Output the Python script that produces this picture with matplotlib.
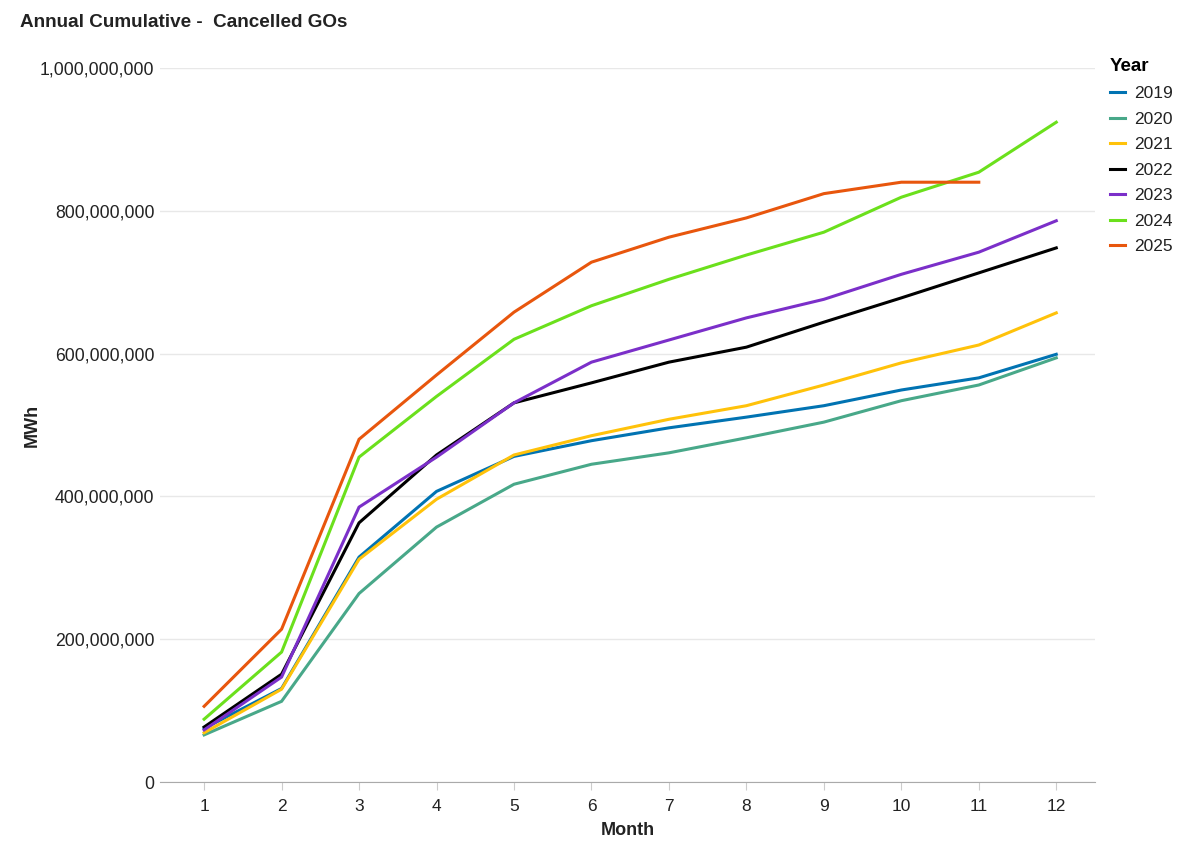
import matplotlib
matplotlib.use("Agg")
import matplotlib.pyplot as plt
from matplotlib.ticker import FuncFormatter

plt.rcParams['font.family'] = ['Liberation Sans', 'DejaVu Sans']

months = list(range(1, 13))
years = ["2019", "2020", "2021", "2022", "2023", "2024", "2025"]
colors = ["#0173B2", "#48A889", "#FFC20A", "#000000", "#7B2FC9", "#6BE01C", "#E8560D"]

v2019 = [75, 131, 315, 407, 456, 478, 496, 511, 527, 549, 566, 599]
v2020 = [66, 113, 264, 357, 417, 445, 461, 482, 504, 534, 556, 594]
v2021 = [69, 130, 312, 396, 458, 485, 508, 527, 556, 587, 612, 657]
v2022 = [77, 151, 363, 458, 531, 559, 588, 609, 644, 678, 713, 748]
v2023 = [73, 147, 385, 455, 531, 588, 619, 650, 676, 711, 742, 786]
v2024 = [88, 182, 455, 540, 620, 667, 704, 738, 770, 819, 854, 924]
v2025 = [106, 214, 480, 570, 658, 728, 763, 790, 824, 840, 840]

series = [v2019, v2020, v2021, v2022, v2023, v2024, v2025]

fig = plt.figure(figsize=(12, 8.57), dpi=100)
ax = fig.add_axes([0.1333, 0.0875, 0.7792, 0.8332])

for yr, vals, c in zip(years, series, colors):
    ax.plot(months[:len(vals)], [v * 1e6 for v in vals], color=c, lw=2.2, label=yr,
            solid_joinstyle='miter')

ax.set_xlim(0.43, 12.5)
ax.set_ylim(0, 1e9)
ax.set_xticks(months)
ax.set_yticks([0, 2e8, 4e8, 6e8, 8e8, 1e9])
ax.yaxis.set_major_formatter(FuncFormatter(lambda v, p: f"{int(v):,}"))
ax.grid(axis='y', color='#e8e8e8', lw=1)
ax.set_axisbelow(True)
for s in ['top', 'right', 'left']:
    ax.spines[s].set_visible(False)
ax.spines['bottom'].set_color('#aaaaaa')
ax.tick_params(axis='y', length=0, pad=4, labelsize=12.7, labelcolor='#222222')
ax.tick_params(axis='x', length=6, color='#cccccc', pad=6, labelsize=12.5, labelcolor='#222222')

ax.set_xlabel("Month", fontsize=13, fontweight='bold', color='#222222', labelpad=6)
ax.set_ylabel("MWh", fontsize=13, fontweight='bold', color='#222222', labelpad=0)
ax.yaxis.set_label_coords(-0.128, 0.5)

fig.text(0.0167, 0.974, "Annual Cumulative -  Cancelled GOs", fontsize=13.6, fontweight='bold',
         color='#222222', va='center', ha='left')

leg = ax.legend(loc='upper left', bbox_to_anchor=(0.912, 0.95), bbox_transform=fig.transFigure,
                frameon=False, title="Year", alignment='left', handlelength=0.85,
                handletextpad=0.55, labelspacing=0.6, fontsize=12.5,
                title_fontproperties={'weight': 'bold', 'size': 13.5})
for t in leg.get_texts():
    t.set_color('#222222')

fig.savefig("out.png", dpi=100, facecolor='white')
